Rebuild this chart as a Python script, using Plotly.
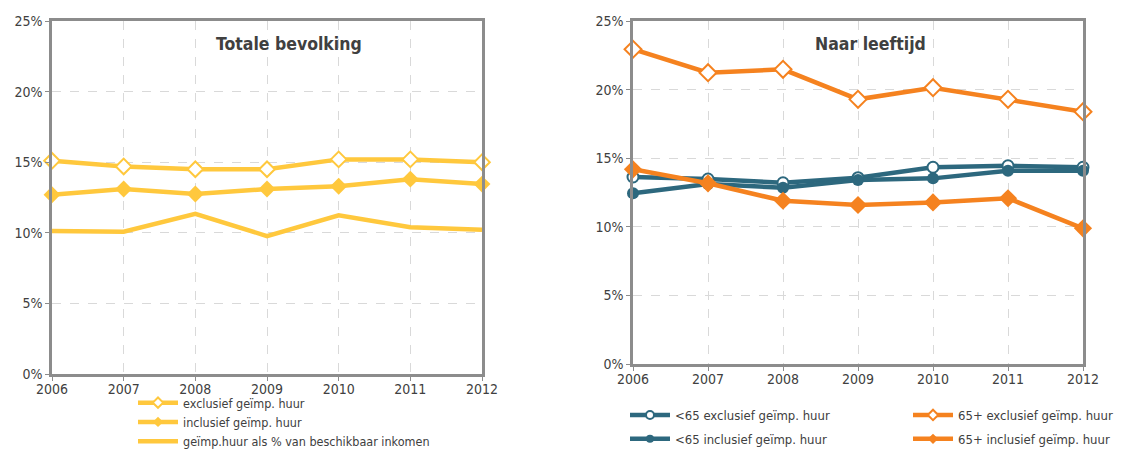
import plotly.graph_objects as go

years = [2006, 2007, 2008, 2009, 2010, 2011, 2012]
pct_ticks = [0, 5, 10, 15, 20, 25]
pct_labels = ["0%", "5%", "10%", "15%", "20%", "25%"]

# Totale bevolking (%)
tot_excl = [15.1, 14.7, 14.5, 14.5, 15.2, 15.2, 15.0]
tot_incl = [12.7, 13.1, 12.75, 13.1, 13.3, 13.8, 13.45]
huur_pct = [10.13, 10.08, 11.35, 9.77, 11.24, 10.39, 10.22]

# Naar leeftijd (%)
jong_excl = [13.63, 13.48, 13.21, 13.58, 14.34, 14.45, 14.34]
jong_incl = [12.44, 13.12, 12.85, 13.41, 13.53, 14.09, 14.09]
oud_excl = [22.94, 21.23, 21.48, 19.29, 20.14, 19.29, 18.39]
oud_incl = [14.19, 13.17, 11.9, 11.59, 11.78, 12.08, 9.89]

YELLOW = "#FFC83D"
ORANGE = "#F5821F"
TEAL = "#2D687E"
AXIS = "#8C8C8C"
GRID = "#D9D9D9"
TEXT = "#404040"
FONT = "DejaVu Sans Condensed"

fig = go.Figure()


def marker_style(color, symbol, size, open_):
    if not symbol:
        return dict(size=0, color=color)
    return dict(symbol=symbol, size=size,
                color="white" if open_ else color,
                line=dict(color=color, width=2 if open_ else 0))


def series(x, y, name, color, symbol=None, size=0, open_=False,
           xa="x", ya="y", legend="legend"):
    # plotted series
    fig.add_trace(go.Scatter(x=x, y=y, name=name,
                             mode="lines+markers" if symbol else "lines",
                             line=dict(color=color, width=4.5),
                             marker=marker_style(color, symbol, size, open_),
                             cliponaxis=False, showlegend=False,
                             xaxis=xa, yaxis=ya))
    # legend entry with smaller marker
    fig.add_trace(go.Scatter(x=[None], y=[None], name=name,
                             mode="lines+markers" if symbol else "lines",
                             line=dict(color=color, width=4.5),
                             marker=marker_style(color, symbol, 8, open_),
                             showlegend=True, legend=legend, legendgroup=name,
                             xaxis=xa, yaxis=ya))


series(years, tot_excl, "exclusief geïmp. huur", YELLOW, "diamond", 12, True)
series(years, tot_incl, "inclusief geïmp. huur", YELLOW, "diamond", 13, False)
series(years, huur_pct, "geïmp.huur als % van beschikbaar inkomen", YELLOW)

series(years, jong_excl, "<65 exclusief geïmp. huur", TEAL, "circle", 11, True, "x2", "y2", "legend2")
series(years, jong_incl, "<65 inclusief geïmp. huur", TEAL, "circle", 12, False, "x2", "y2", "legend2")
series(years, oud_excl, "65+ exclusief geïmp. huur", ORANGE, "diamond", 13, True, "x2", "y2", "legend3")
series(years, oud_incl, "65+ inclusief geïmp. huur", ORANGE, "diamond", 14, False, "x2", "y2", "legend3")

xcommon = dict(range=[2006, 2012], tickmode="array", tickvals=years,
               showgrid=True, gridcolor=GRID, griddash="dash", gridwidth=1,
               showline=True, linecolor=AXIS, linewidth=2.5, mirror=True,
               ticks="outside", ticklen=4, tickcolor=AXIS, zeroline=False,
               automargin=False, ticklabelstandoff=-4,
               tickfont=dict(size=14, color=TEXT, family=FONT))
ycommon = dict(range=[0, 25], tickmode="array", tickvals=pct_ticks, ticktext=pct_labels,
               showgrid=True, gridcolor=GRID, griddash="dash", gridwidth=1,
               showline=True, linecolor=AXIS, linewidth=2.5, mirror=True,
               ticks="outside", ticklen=4, tickcolor=AXIS, zeroline=False,
               automargin=False,
               tickfont=dict(size=14, color=TEXT, family=FONT))

legend_common = dict(bgcolor="rgba(0,0,0,0)", font=dict(size=13, color=TEXT, family=FONT),
                     itemwidth=40, yanchor="top", xanchor="left",
                     orientation="v")

fig.update_layout(
    width=1144, height=450,
    margin=dict(l=0, r=0, t=0, b=0, autoexpand=False),
    paper_bgcolor="white", plot_bgcolor="white",
    font=dict(family=FONT, color=TEXT),
    xaxis=dict(domain=[52 / 1144, 482 / 1144], anchor="y", **xcommon),
    yaxis=dict(domain=[1 - 374 / 450, 1 - 21 / 450], anchor="x", **ycommon),
    xaxis2=dict(domain=[633 / 1144, 1083 / 1144], anchor="y2", **xcommon),
    yaxis2=dict(domain=[1 - 364 / 450, 1 - 21 / 450], anchor="x2", **ycommon),
    legend=dict(x=133 / 1144, y=1 - 388 / 450, tracegroupgap=0,
                **{**legend_common, "font": dict(size=12.5, color=TEXT, family=FONT)}),
    legend2=dict(x=625 / 1144, y=1 - 400 / 450, tracegroupgap=4, **legend_common),
    legend3=dict(x=908 / 1144, y=1 - 400 / 450, tracegroupgap=4, **legend_common),
    showlegend=True,
    annotations=[
        dict(text="<b>Totale bevolking</b>", x=289 / 1144, y=1 - 44 / 450,
             xref="paper", yref="paper", xanchor="center", yanchor="middle",
             showarrow=False, font=dict(size=17.5, color=TEXT, family=FONT)),
        dict(text="<b>Naar leeftijd</b>", x=870 / 1144, y=1 - 44 / 450,
             xref="paper", yref="paper", xanchor="center", yanchor="middle",
             showarrow=False, font=dict(size=17.5, color=TEXT, family=FONT)),
    ],
)

fig.write_html("out.html")
